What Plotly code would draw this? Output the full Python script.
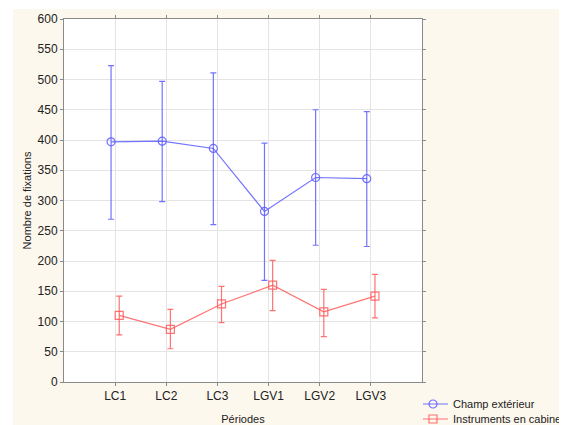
import plotly.graph_objects as go

periods = ["LC1", "LC2", "LC3", "LGV1", "LGV2", "LGV3"]
champ_mean = [397, 398, 386, 282, 338, 336]
champ_upper = [523, 497, 511, 395, 450, 447]
champ_lower = [269, 298, 260, 168, 226, 224]
instr_mean = [110, 87, 129, 160, 116, 142]
instr_upper = [142, 120, 158, 201, 153, 178]
instr_lower = [78, 55, 98, 118, 75, 106]

blue = "rgba(90,90,255,0.85)"
red = "rgba(255,90,90,0.85)"

xi = list(range(len(periods)))
xb = [i - 0.08 for i in xi]
xr = [i + 0.08 for i in xi]

fig = go.Figure()
fig.add_trace(go.Scatter(
    x=xb, y=champ_mean, mode="lines+markers", name="Champ extérieur",
    line=dict(color=blue, width=1.2), legend="legend",
    marker=dict(symbol="circle-open", size=8, color=blue, line=dict(width=1.2)),
    error_y=dict(type="data", symmetric=False,
                 array=[u - m for u, m in zip(champ_upper, champ_mean)],
                 arrayminus=[m - l for m, l in zip(champ_mean, champ_lower)],
                 color=blue, thickness=1.2, width=3),
))
fig.add_trace(go.Scatter(
    x=xr, y=instr_mean, mode="lines+markers", name="Instruments en cabine",
    line=dict(color=red, width=1.2), legend="legend2",
    marker=dict(symbol="square-open", size=8, color=red, line=dict(width=1.2)),
    error_y=dict(type="data", symmetric=False,
                 array=[u - m for u, m in zip(instr_upper, instr_mean)],
                 arrayminus=[m - l for m, l in zip(instr_mean, instr_lower)],
                 color=red, thickness=1.2, width=3),
))

# page body has an 8px margin: figure coords = page coords - 8
W, H = 559, 417
L, T = 56, 11
R = W - 414
B = H - 374
pw, ph = W - L - R, H - T - B
cream = "#fdf8ee"
fig.add_shape(type="rect", xref="paper", yref="paper", layer="below",
              x0=(5 - L) / pw, x1=(W + 20 - L) / pw,
              y0=-(B + 20) / ph, y1=(H - B - 1) / ph,
              fillcolor=cream, line=dict(width=0))
fig.add_shape(type="rect", xref="paper", yref="paper", layer="below",
              x0=0, x1=1, y0=0, y1=1, fillcolor="white", line=dict(width=0))

tf = dict(family="Liberation Sans, Arial", size=12, color="#222")
axis_common = dict(showline=True, linecolor="#8a8a8a", linewidth=1, mirror="ticks",
                   ticks="outside", ticklen=3, tickcolor="#8a8a8a",
                   gridcolor="#e4e4e4", gridwidth=1, zeroline=False, tickfont=tf)

fig.update_xaxes(range=[-1, 6], tickvals=xi, ticktext=periods,
                 title=dict(text="Périodes", font=dict(family="Liberation Sans, Arial", size=11, color="#222"), standoff=12),
                 **axis_common)
fig.update_yaxes(range=[0, 600], dtick=50,
                 title=dict(text="Nombre de fixations", font=dict(family="Liberation Sans, Arial", size=11, color="#222"), standoff=3),
                 **axis_common)

def leg_y(py):
    return -(py - 8 - (H - B)) / ph

lx = (415 - L) / pw
legcommon = dict(x=lx, xanchor="left", yanchor="middle", bgcolor="rgba(0,0,0,0)",
                 font=dict(family="Liberation Sans, Arial", size=11, color="#222"),
                 itemwidth=30, indentation=-10)

fig.update_layout(
    width=W, height=H,
    margin=dict(l=L, r=R, t=T, b=B, autoexpand=False),
    paper_bgcolor="white", plot_bgcolor="white",
    font=dict(family="Liberation Sans, Arial", size=11, color="#222"),
    legend=dict(y=leg_y(404), **legcommon),
    legend2=dict(y=leg_y(419), **legcommon),
    showlegend=True,
)

fig.write_html("out.html")
